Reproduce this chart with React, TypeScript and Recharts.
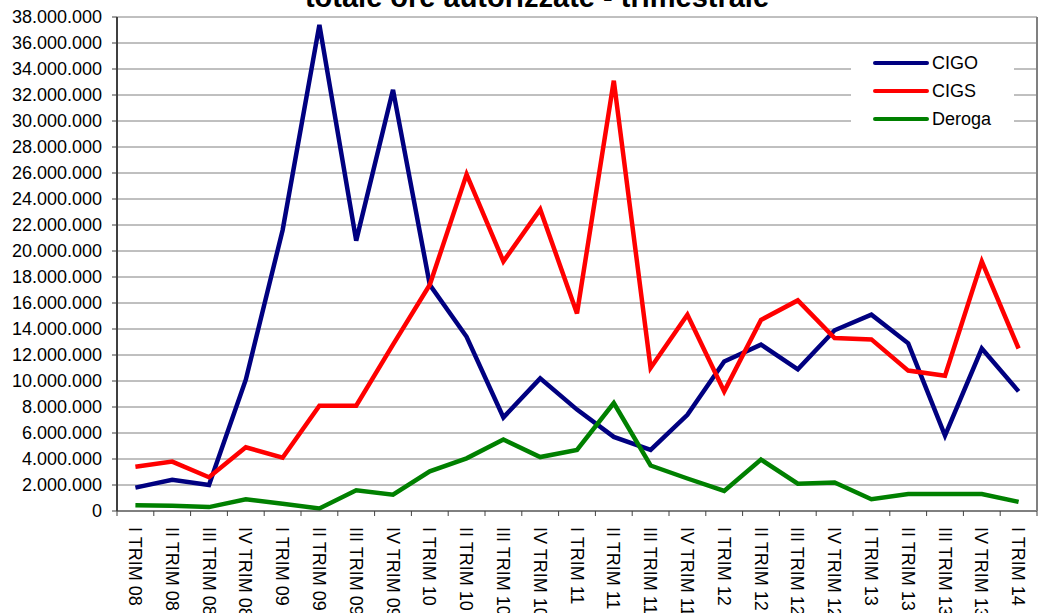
import React from 'react'
import { LineChart, Line, XAxis, YAxis, CartesianGrid, Legend } from 'recharts'

const categories = [
  'I TRIM 08', 'II TRIM 08', 'III TRIM 08', 'IV TRIM 08',
  'I TRIM 09', 'II TRIM 09', 'III TRIM 09', 'IV TRIM 09',
  'I TRIM 10', 'II TRIM 10', 'III TRIM 10', 'IV TRIM 10',
  'I TRIM 11', 'II TRIM 11', 'III TRIM 11', 'IV TRIM 11',
  'I TRIM 12', 'II TRIM 12', 'III TRIM 12', 'IV TRIM 12',
  'I TRIM 13', 'II TRIM 13', 'III TRIM 13', 'IV TRIM 13',
  'I TRIM 14',
]

const cigo = [
  1800000, 2400000, 2000000, 10100000, 21600000, 37400000, 20800000, 32400000,
  17400000, 13400000, 7200000, 10200000, 7800000, 5700000, 4700000, 7400000,
  11500000, 12800000, 10900000, 13900000, 15100000, 12900000, 5800000, 12500000,
  9200000,
]

const cigs = [
  3400000, 3800000, 2600000, 4900000, 4100000, 8100000, 8100000, 12800000,
  17400000, 25900000, 19200000, 23200000, 15200000, 33100000, 11000000, 15100000,
  9200000, 14700000, 16200000, 13300000, 13200000, 10800000, 10400000, 19200000,
  12500000,
]

const deroga = [
  450000, 400000, 300000, 900000, 550000, 200000, 1600000, 1250000,
  3050000, 4050000, 5500000, 4150000, 4700000, 8300000, 3500000, 2500000,
  1550000, 3950000, 2100000, 2200000, 900000, 1300000, 1300000, 1300000,
  700000,
]

const yTicks = [
  0, 2000000, 4000000, 6000000, 8000000, 10000000, 12000000, 14000000,
  16000000, 18000000, 20000000, 22000000, 24000000, 26000000, 28000000,
  30000000, 32000000, 34000000, 36000000, 38000000,
]

const data = categories.map((c, i) => ({
  name: c,
  CIGO: cigo[i],
  CIGS: cigs[i],
  Deroga: deroga[i],
}))

const FONT = '"Liberation Sans", Arial, sans-serif'
const W = 1052
const H = 613
const LEFT = 117
const RIGHT = 15
// half a category band, so points sit in the middle of each slot like Excel
const HALF = (W - LEFT - RIGHT) / categories.length / 2

const fmt = (v: number) => String(v).replace(/\B(?=(\d{3})+(?!\d))/g, '.')

function XTick(props: any) {
  const { x, y, payload, index, visibleTicksCount } = props
  const axisY = y - 16
  return (
    <g>
      <line x1={x - HALF} y1={axisY} x2={x - HALF} y2={axisY + 5} stroke="#404040" />
      {index === visibleTicksCount - 1 && (
        <line x1={x + HALF} y1={axisY} x2={x + HALF} y2={axisY + 5} stroke="#404040" />
      )}
      <text
        transform={`translate(${x},${y}) rotate(90)`}
        dy="0.35em"
        textAnchor="start"
        fontSize={18}
        fontFamily={FONT}
        fill="#000"
      >
        {payload.value}
      </text>
    </g>
  )
}

function LegendBox(props: any) {
  const { payload } = props
  return (
    <div style={{ width: 163, height: 90, background: '#fff', paddingTop: 5, boxSizing: 'border-box' }}>
      {(payload || []).map((p: any) => (
        <div key={p.value} style={{ display: 'flex', alignItems: 'center', height: 28, fontFamily: FONT, fontSize: 18 }}>
          <span style={{ display: 'inline-block', width: 56, height: 4, marginLeft: 22, background: p.color, borderRadius: 2 }} />
          <span style={{ marginLeft: 3 }}>{p.value}</span>
        </div>
      ))}
    </div>
  )
}

export default function App() {
  return (
    <div style={{ position: 'absolute', left: 0, top: 0, width: W, height: H, background: '#fff', overflow: 'hidden' }}>
      <LineChart width={W} height={H} data={data} margin={{ top: 17, right: 0, bottom: 0, left: 0 }}>
        <CartesianGrid vertical={false} stroke="#808080" />
        <XAxis
          dataKey="name"
          height={102}
          interval={0}
          padding={{ left: HALF, right: HALF }}
          tickSize={5}
          tickMargin={11}
          tickLine={false}
          axisLine={{ stroke: '#404040' }}
          tick={<XTick />}
        />
        <YAxis
          width={LEFT}
          domain={[0, 38000000]}
          ticks={yTicks}
          interval={0}
          tickFormatter={fmt}
          tickSize={5}
          tickMargin={10}
          tickLine={{ stroke: '#404040' }}
          axisLine={{ stroke: '#404040', strokeWidth: 2 }}
          tick={{ fontSize: 18, fontFamily: FONT, fill: '#000' }}
        />
        <YAxis
          yAxisId="r"
          orientation="right"
          width={RIGHT}
          domain={[0, 38000000]}
          tick={false}
          tickLine={false}
          axisLine={{ stroke: '#808080', strokeWidth: 2 }}
        />
        <Legend
          layout="horizontal"
          verticalAlign="middle"
          align="center"
          content={<LegendBox />}
          wrapperStyle={{ left: 851, top: 44, width: 163, height: 90 }}
        />
        <Line type="linear" dataKey="CIGO" stroke="#000080" strokeWidth={4.5} dot={false} isAnimationActive={false} />
        <Line type="linear" dataKey="CIGS" stroke="#ff0000" strokeWidth={4.5} dot={false} isAnimationActive={false} />
        <Line type="linear" dataKey="Deroga" stroke="#008000" strokeWidth={4.5} dot={false} isAnimationActive={false} />
      </LineChart>
      <svg width={W} height={30} style={{ position: 'absolute', left: 0, top: 0, pointerEvents: 'none' }}>
        <text x={537} y={7} textAnchor="middle" fontSize={29} fontWeight="bold" fontFamily={FONT} fill="#000">
          totale ore autorizzate - trimestrale
        </text>
      </svg>
    </div>
  )
}
